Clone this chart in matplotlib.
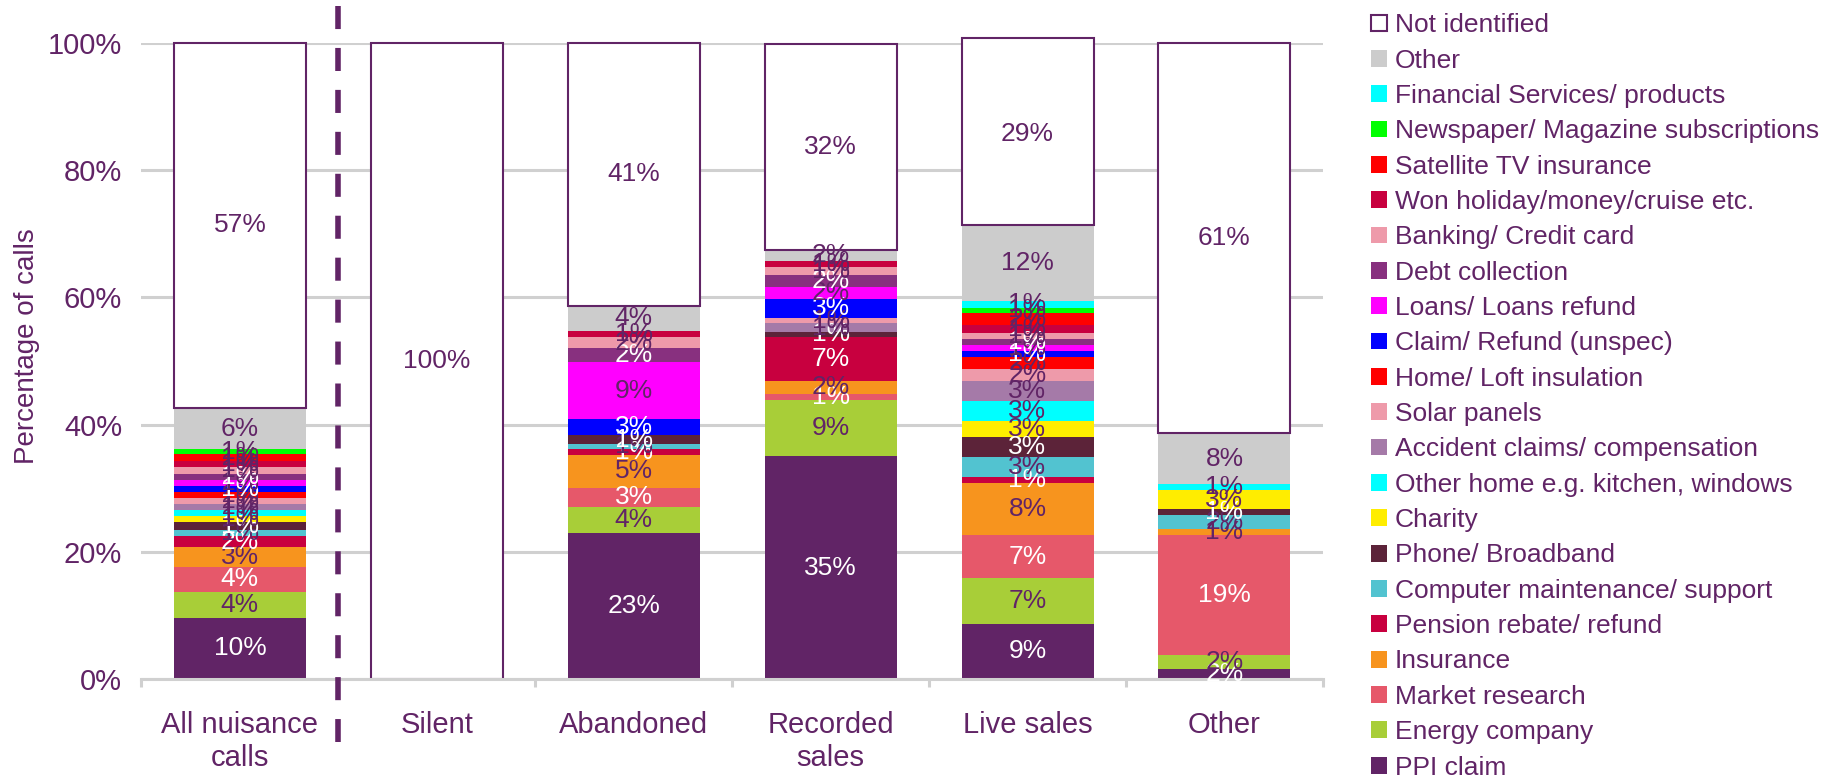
import matplotlib
matplotlib.use('Agg')
import matplotlib.pyplot as plt
import numpy as np
from matplotlib.patches import Patch

plt.rcParams['font.family'] = ['Liberation Sans', 'DejaVu Sans']

PURPLE = '#612466'
GRID = '#D0D0D0'

# Call types on the x axis
categories = ['All nuisance\ncalls', 'Silent', 'Abandoned', 'Recorded\nsales', 'Live sales', 'Other']

# Share of calls (%) per subject, bottom of the stack first
ppi_claim      = [9.6, 0, 23.0, 35.0, 8.7, 1.6]
energy_company = [4.1, 0, 4.1, 8.9, 7.1, 2.2]
market_research = [3.9, 0, 3.0, 0.9, 6.9, 18.9]
insurance      = [3.1, 0, 5.1, 2.1, 8.1, 0.9]
pension_refund = [1.8, 0, 0.9, 6.9, 1.0, 0]
computer_maint = [0.9, 0, 0.9, 0, 3.1, 2.2]
phone_broadband = [1.3, 0, 1.3, 0.8, 3.1, 0.9]
charity        = [0.9, 0, 0, 0, 2.6, 3.0]
other_home     = [0.9, 0, 0, 0, 3.1, 0]
accident_claims = [1.0, 0, 0, 1.3, 3.1, 0]
solar_panels   = [1.0, 0, 0, 0.9, 1.9, 0]
loft_insulation = [0.9, 0, 0, 0, 2.0, 0]
claim_refund   = [0.9, 0, 2.6, 3.0, 0.9, 0]
loans_refund   = [1.0, 0, 8.9, 1.8, 0.9, 0]
debt_collection = [0.9, 0, 2.2, 1.9, 1.0, 0]
banking_credit = [1.2, 0, 1.8, 1.3, 0.9, 0]
won_holiday    = [0.9, 0, 0.9, 0.9, 1.2, 0]
satellite_tv   = [1.0, 0, 0, 0, 1.9, 0]
newspaper_subs = [0.8, 0, 0, 0, 0.9, 0]
financial_serv = [0, 0, 0, 0, 1.0, 0.9]
other_subject  = [6.5, 0, 4.0, 1.8, 12.0, 8.0]
not_identified = [57.4, 100, 41.3, 32.4, 29.3, 61.4]

# (name, values, fill colour, label colour)
series = [
    ('PPI claim', ppi_claim, '#612466', 'white'),
    ('Energy company', energy_company, '#A8CE38', PURPLE),
    ('Market research', market_research, '#E6586A', 'white'),
    ('Insurance', insurance, '#F7941E', PURPLE),
    ('Pension rebate/ refund', pension_refund, '#C8003F', 'white'),
    ('Computer maintenance/ support', computer_maint, '#52C3D0', PURPLE),
    ('Phone/ Broadband', phone_broadband, '#5C2339', 'white'),
    ('Charity', charity, '#FFED00', PURPLE),
    ('Other home e.g. kitchen, windows', other_home, '#00FFFF', PURPLE),
    ('Accident claims/ compensation', accident_claims, '#A57AA8', PURPLE),
    ('Solar panels', solar_panels, '#EE9AAA', PURPLE),
    ('Home/ Loft insulation', loft_insulation, '#FF0000', PURPLE),
    ('Claim/ Refund (unspec)', claim_refund, '#0000FF', 'white'),
    ('Loans/ Loans refund', loans_refund, '#FF00FF', PURPLE),
    ('Debt collection', debt_collection, '#88307F', 'white'),
    ('Banking/ Credit card', banking_credit, '#EE9AAA', PURPLE),
    ('Won holiday/money/cruise etc.', won_holiday, '#C8003F', PURPLE),
    ('Satellite TV insurance', satellite_tv, '#FF0000', PURPLE),
    ('Newspaper/ Magazine subscriptions', newspaper_subs, '#00FF00', PURPLE),
    ('Financial Services/ products', financial_serv, '#00FFFF', PURPLE),
    ('Other', other_subject, '#CCCCCC', PURPLE),
    ('Not identified', not_identified, 'white', PURPLE),
]

fig = plt.figure(figsize=(18.3, 7.78), dpi=100)
ax = fig.add_axes([0.0773, 0.1273, 0.6456, 0.8175])

x = np.arange(len(categories))
bottom = np.zeros(len(categories))
handles = []
for name, vals, color, txt_color in series:
    vals = np.array(vals, dtype=float)
    if name == 'Not identified':
        bars = ax.bar(x, vals, 0.67, bottom=bottom, color=color, edgecolor=PURPLE,
                      linewidth=1.5, clip_on=False, zorder=2)
        handles.append(Patch(facecolor=color, edgecolor=PURPLE, linewidth=1.5, label=name))
    else:
        bars = ax.bar(x, vals, 0.67, bottom=bottom, color=color, linewidth=0,
                      clip_on=False, zorder=2)
        handles.append(Patch(facecolor=color, edgecolor='none', label=name))
    labels = [f'{v:.0f}%' if v > 0 else '' for v in vals]
    ax.bar_label(bars, labels=labels, label_type='center', color=txt_color,
                 fontsize=19, zorder=3)
    bottom += vals

ax.set_xlim(-0.5, len(categories) - 0.5)
ax.set_ylim(0, 100)
ax.set_yticks(np.arange(0, 101, 20))
ax.set_yticklabels([f'{v}%' for v in range(0, 101, 20)])
ax.yaxis.grid(True, color=GRID, linewidth=2.2)
ax.set_axisbelow(True)

for side in ['top', 'right', 'left']:
    ax.spines[side].set_visible(False)
ax.spines['bottom'].set_color(GRID)
ax.spines['bottom'].set_linewidth(2.2)

ax.set_xticks(x)
ax.set_xticklabels(categories, linespacing=1.25)
ax.set_xticks(np.arange(-0.5, len(categories)), minor=True)
ax.tick_params(axis='x', which='major', length=0, pad=23, labelsize=21, labelcolor=PURPLE)
ax.tick_params(axis='x', which='minor', length=6, width=2.2, color=GRID, direction='out')
ax.tick_params(axis='y', length=0, pad=14, labelsize=21, labelcolor=PURPLE)

ax.set_ylabel('Percentage of calls', fontsize=20, color=PURPLE)
ax.yaxis.set_label_coords(-0.086, 0.524)

# divider between the total and the individual call types
ax.plot([0.5, 0.5], [1.058, -0.099], transform=ax.get_xaxis_transform(),
        color=PURPLE, linewidth=4, linestyle=(0, (4.15, 3.4)), clip_on=False, zorder=4)

leg = ax.legend(handles=handles[::-1], loc='upper left', bbox_to_anchor=(0.7492, 0.983),
                bbox_transform=fig.transFigure, frameon=False, fontsize=19,
                borderpad=0, borderaxespad=0, labelspacing=0.43,
                handlelength=0.6, handleheight=0.6, handletextpad=0.3)
for t in leg.get_texts():
    t.set_color(PURPLE)

fig.savefig('out.png', dpi=100)
